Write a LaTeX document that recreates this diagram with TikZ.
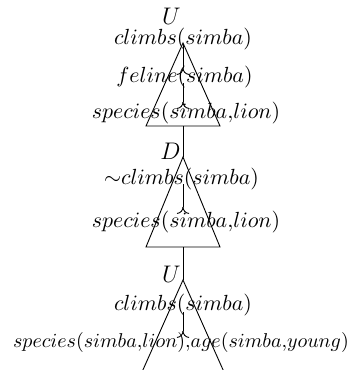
\documentclass[tikz,border=0pt]{standalone}
\begin{document}
\begin{tikzpicture}[x=0.5pt,y=-0.5pt,
  lbl/.style={inner sep=0pt,anchor=base,font=\fontsize{10.6}{12}\selectfont},
  widelbl/.style={lbl,font=\fontsize{10.3}{12}\selectfont},
  tag/.style={inner sep=0pt,anchor=base east,font=\fontsize{11.5}{14}\selectfont},
  edge/.style={line width=0.45pt},
  fork/.pic={
    \draw[edge] (0,0) .. controls (0,3.5) and (-2.5,6) .. (-6,6.5);
    \draw[edge] (0,0) .. controls (0,3.5) and (2.5,6) .. (6,6.5);
  }]
\useasboundingbox (0,0) rectangle (359,370);
\clip (0,0) rectangle (359,370);

% first block
\coordinate (a1) at (183,43);
\coordinate (l1) at (146,126);
\coordinate (r1) at (220,126);
\coordinate (b1) at (183,126);
\draw[edge] (a1) -- (l1) -- (r1) -- cycle;
\node[tag] (u1) at (181,24) {$U$};
\node[lbl] (c1) at (183,44) {$climbs(simba)$};
\node[lbl] (f1) at (184.5,82) {$feline(simba)$};
\node[lbl] (s1) at (186,118) {$species(simba{,}lion)$};
\coordinate (j1) at (183,68);
\coordinate (j2) at (183,102);
\draw[edge] (c1.base -| j1) -- (j1) pic {fork};
\draw[edge] (f1.base -| j2) ++(0,1) -- (j2) pic {fork};

% second block
\coordinate (a2) at (183,157);
\coordinate (l2) at (146,247);
\coordinate (r2) at (220,247);
\coordinate (b2) at (183,247);
\draw[edge] (b1) -- (a2);
\draw[edge] (a2) -- (l2) -- (r2) -- cycle;
\node[tag] (d2) at (181,159) {$D$};
\node[lbl] (c2) at (181.5,184) {${\sim}climbs(simba)$};
\node[lbl] (s2) at (186,227) {$species(simba{,}lion)$};
\coordinate (j3) at (183,207);
\draw[edge] (c2.base -| j3) -- (j3) pic {fork};

% third block
\coordinate (a3) at (183,280);
\coordinate (l3) at (142,372);
\coordinate (r3) at (224,372);
\draw[edge] (b2) -- (a3);
\draw[edge] (l3) -- (a3) -- (r3);
\node[tag] (u3) at (181,282) {$U$};
\node[lbl] (c3) at (183,310) {$climbs(simba)$};
\node[widelbl] (s3) at (181,347) {$species(simba{,}lion){,}age(simba{,}young)$};
\coordinate (j4) at (183,331);
\draw[edge] (c3.base -| j4) ++(0,2) -- (j4) pic {fork};
\end{tikzpicture}
\end{document}
